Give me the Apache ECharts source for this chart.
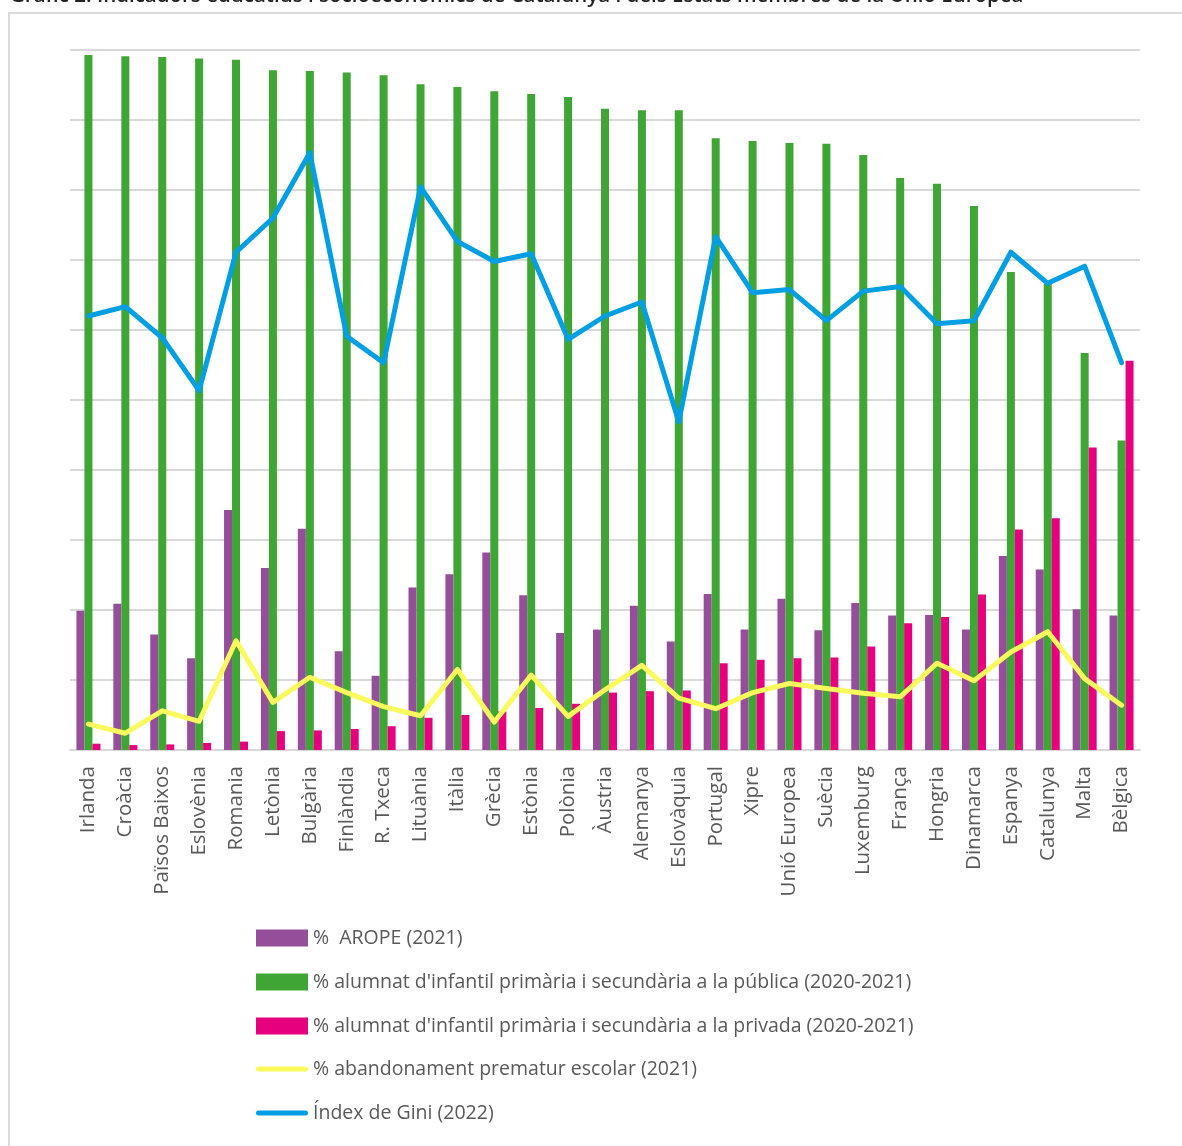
<!DOCTYPE html>
<html>
<head>
<meta charset="utf-8">
<script src="https://cdn.jsdelivr.net/npm/echarts@6/dist/echarts.min.js"></script>
<style>html,body{margin:0;padding:0;background:#fff;}#c{width:1182px;height:1146px;}</style>
</head>
<body>
<div id="c"></div>
<script>
const categories = ["Irlanda","Croàcia","Països Baixos","Eslovènia","Romania","Letònia","Bulgària","Finlàndia","R. Txeca","Lituània","Itàlia","Grècia","Estònia","Polònia","Àustria","Alemanya","Eslovàquia","Portugal","Xipre","Unió Europea","Suècia","Luxemburg","França","Hongria","Dinamarca","Espanya","Catalunya","Malta","Bèlgica"];
const arope = [19.9,20.9,16.5,13.1,34.3,26.0,31.6,14.1,10.6,23.2,25.1,28.2,22.1,16.7,17.2,20.6,15.5,22.3,17.2,21.6,17.1,21.0,19.2,19.3,17.2,27.7,25.8,20.1,19.2];
const publica = [99.3,99.1,99.0,98.8,98.6,97.1,97.0,96.8,96.4,95.1,94.7,94.1,93.7,93.3,91.6,91.4,91.4,87.4,87.0,86.7,86.6,85.0,81.7,80.9,77.7,68.3,66.6,56.7,44.2];
const privada = [0.9,0.7,0.8,1.0,1.2,2.7,2.8,3.0,3.4,4.6,5.0,5.5,6.0,6.6,8.2,8.4,8.5,12.4,12.9,13.1,13.2,14.8,18.1,19.0,22.2,31.5,33.1,43.2,55.6];
const abandonament = [3.7,2.4,5.6,4.1,15.6,6.8,10.4,8.2,6.2,4.9,11.5,4.0,10.7,4.8,8.6,12.1,7.4,5.9,8.2,9.5,8.8,8.1,7.6,12.4,9.9,14.0,16.9,10.2,6.4];
const gini = [27.9,28.5,26.5,23.1,32.0,34.2,38.4,26.6,24.9,36.2,32.7,31.4,31.9,26.4,27.9,28.8,21.1,33.0,29.4,29.6,27.6,29.5,29.8,27.4,27.6,32.0,30.0,31.1,24.9];
const seriesNames = ["%  AROPE (2021)","% alumnat d'infantil primària i secundària a la pública (2020-2021)","% alumnat d'infantil primària i secundària a la privada (2020-2021)","% abandonament prematur escolar (2021)","Índex de Gini (2022)"];
const titleText = "Gràfic 2. Indicadors educatius i socioeconòmics de Catalunya i dels Estats membres de la Unió Europea";

const FONT = "Open Sans";
const chart = echarts.init(document.getElementById('c'));
const capsule = 'path://M2.5,0 H49.5 A2.5,2.5 0 0 1 49.5,5 H2.5 A2.5,2.5 0 0 1 2.5,0 Z';
const legendText = {fontSize: 19.5, lineHeight: 20, color: '#595959', fontFamily: FONT};
chart.setOption({
  animation: false,
  backgroundColor: '#fff',
  textStyle: {fontFamily: FONT},
  graphic: [
    {type: 'rect', shape: {x: 9, y: 13, width: 1300, height: 1300}, style: {fill: 'none', stroke: '#d9d9d9', lineWidth: 2}, z: -10},
    {type: 'text', x: 10, y: 7, style: {text: titleText, font: '600 20.5px "Open Sans"', fill: '#222', verticalAlign: 'bottom'}}
  ],
  grid: {left: 70, right: 42, top: 50, bottom: 396},
  legend: [
    {orient: 'vertical', left: 251, top: 923, itemWidth: 52, itemHeight: 17, itemGap: 24, icon: 'rect',
     data: seriesNames.slice(0,3), textStyle: legendText},
    {orient: 'vertical', left: 251, top: 1054, itemWidth: 52, itemHeight: 5, itemGap: 24, icon: capsule,
     data: seriesNames.slice(3), textStyle: legendText}
  ],
  xAxis: {
    type: 'category', data: categories,
    axisLine: {lineStyle: {color: '#d9d9d9', width: 2}},
    axisTick: {show: false},
    axisLabel: {rotate: 90, fontSize: 20.5, color: '#595959', fontFamily: FONT, margin: 16, interval: 0}
  },
  yAxis: [
    {type: 'value', min: 0, max: 100, interval: 10, axisLabel: {show: false}, axisLine: {show: false}, axisTick: {show: false},
     splitLine: {lineStyle: {color: '#d9d9d9', width: 2}}},
    {type: 'value', min: 0, max: 45, interval: 4.5, show: false, splitLine: {show: false}}
  ],
  series: [
    {name: seriesNames[0], type: 'bar', data: arope, barWidth: 8, barGap: '0%', itemStyle: {color: '#954F9A'}},
    {name: seriesNames[1], type: 'bar', data: publica, barWidth: 8, barGap: '0%', itemStyle: {color: '#3FA535'}},
    {name: seriesNames[2], type: 'bar', data: privada, barWidth: 8, barGap: '0%', itemStyle: {color: '#E6007E'}},
    {name: seriesNames[3], type: 'line', data: abandonament, symbol: 'none', z: 5,
     lineStyle: {color: '#FAFA5C', width: 5, cap: 'round', join: 'round'}, itemStyle: {color: '#FAFA5C'}},
    {name: seriesNames[4], type: 'line', yAxisIndex: 1, data: gini, symbol: 'none', z: 6,
     lineStyle: {color: '#009FE3', width: 5, cap: 'round', join: 'round'}, itemStyle: {color: '#009FE3'}}
  ]
});
</script>
</body>
</html>
